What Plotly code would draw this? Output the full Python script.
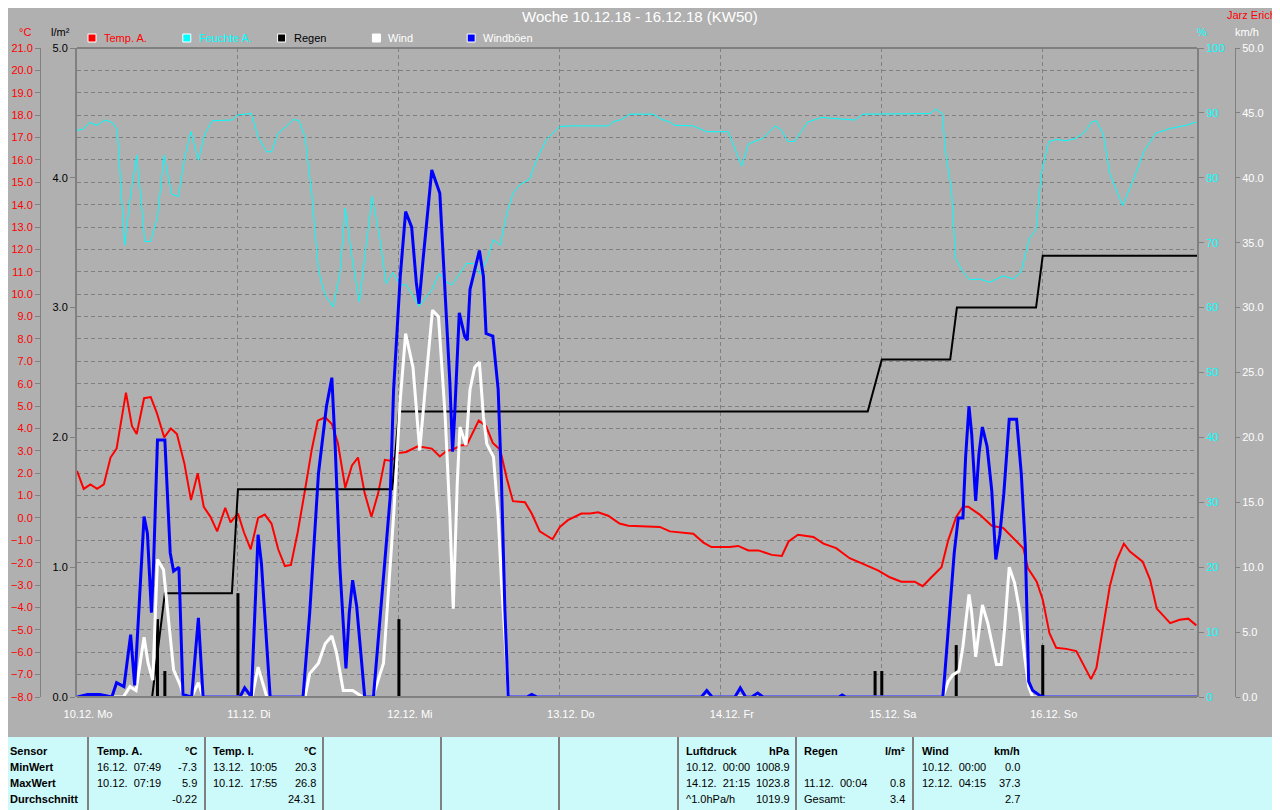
import plotly.graph_objects as go

# Zeit in Stunden ab 10.12. 00:00
temp_t = [0.0, 1.0, 2.0, 3.0, 4.0, 5.0, 5.9, 7.3, 8.2, 8.9,
          10.0, 11.0, 11.9, 13.0, 14.0, 14.9, 16.0, 17.0, 18.0, 18.9,
          19.9, 20.9, 22.1, 22.9, 24.0, 24.9, 25.9, 27.0, 28.0, 29.0,
          30.0, 31.0, 31.9, 32.9, 34.0, 35.0, 35.9, 37.0, 38.0, 38.9,
          40.0, 41.0, 41.9, 42.9, 43.9, 44.9, 45.9, 46.9, 47.9, 49.1,
          50.8, 52.9, 54.1, 55.1, 56.0, 57.3, 58.1, 59.9, 61.0, 62.0,
          63.1, 64.1, 65.0, 66.8, 67.8, 69.0, 70.9, 72.0, 73.2, 75.2,
          76.5, 77.7, 79.2, 80.9, 82.2, 85.2, 86.9, 88.4, 90.4, 91.9,
          93.4, 94.6, 97.3, 98.6, 100.1, 101.6, 103.6, 105.1, 106.1, 107.5,
          109.8, 111.3, 113.2, 115.2, 117.2, 119.5, 121.2, 122.9, 124.9, 126.1,
          127.4, 128.9, 129.9, 131.1, 132.1, 132.9, 134.6, 136.4, 138.1, 139.6,
          141.1, 141.8, 143.1, 144.0, 145.0, 146.0, 147.5, 149.0, 150.0, 151.2,
          152.0, 153.0, 154.0, 155.0, 156.1, 157.0, 158.9, 160.0, 161.0, 163.0,
          164.4, 165.7, 166.9]
temp_v = [2.1, 1.3, 1.5, 1.3, 1.5, 2.7, 3.1, 5.6, 4.1, 3.75,
          5.35, 5.4, 4.7, 3.6, 4.0, 3.75, 2.45, 0.8, 2.0, 0.5,
          0.05, -0.6, 0.45, -0.2, 0.2, -0.65, -1.4, 0.0, 0.15, -0.25,
          -1.4, -2.15, -2.1, -0.65, 1.25, 3.05, 4.35, 4.5, 4.2, 3.35,
          1.35, 2.35, 2.7, 1.1, 0.05, 1.1, 2.6, 2.55, 2.9, 2.95,
          3.2, 3.1, 2.75, 3.0, 3.05, 3.25, 3.25, 4.35, 4.1, 3.35,
          3.05, 1.75, 0.75, 0.7, 0.2, -0.6, -0.95, -0.4, -0.1, 0.2,
          0.2, 0.25, 0.1, -0.25, -0.35, -0.4, -0.4, -0.6, -0.65, -0.7,
          -1.1, -1.3, -1.3, -1.25, -1.45, -1.45, -1.65, -1.7, -1.05, -0.75,
          -0.85, -1.15, -1.35, -1.8, -2.05, -2.35, -2.65, -2.85, -2.85, -3.05,
          -2.65, -2.2, -1.0, 0.05, 0.5, 0.5, 0.15, -0.35, -0.45, -0.9,
          -1.35, -2.25, -2.85, -3.65, -5.15, -5.8, -5.85, -5.95, -6.5, -7.2,
          -6.7, -4.85, -3.05, -1.9, -1.15, -1.5, -1.95, -2.75, -4.05, -4.7,
          -4.55, -4.5, -4.8]

hum_t = [0.0, 0.9, 1.9, 3.0, 4.2, 5.3, 6.0, 6.5, 7.1, 7.9,
         8.9, 9.6, 10.1, 11.0, 12.0, 13.0, 14.1, 15.1, 16.1, 17.0,
         18.1, 19.1, 20.2, 23.1, 24.0, 26.0, 27.0, 28.3, 29.0, 30.0,
         31.3, 32.3, 33.1, 34.0, 35.0, 36.0, 37.0, 38.2, 39.2, 40.0,
         41.0, 42.1, 42.9, 44.0, 45.2, 46.1, 47.1, 48.2, 49.1, 51.0,
         52.9, 54.0, 55.0, 55.9, 58.1, 59.1, 60.1, 61.1, 62.1, 63.1,
         64.1, 65.0, 66.0, 67.5, 68.5, 70.0, 72.0, 73.5, 79.2, 79.9,
         81.2, 82.4, 85.9, 87.2, 88.4, 89.1, 91.9, 93.9, 97.1, 98.1,
         99.1, 100.1, 102.3, 104.1, 105.0, 106.0, 107.0, 107.8, 109.0, 111.0,
         112.7, 116.0, 117.2, 127.2, 128.0, 129.0, 129.6, 130.4, 131.0, 132.1,
         133.1, 134.6, 136.1, 138.1, 139.6, 140.8, 142.0, 143.0, 143.8, 144.9,
         146.1, 147.5, 149.0, 150.3, 151.3, 152.0, 153.0, 154.0, 155.9, 157.5,
         159.2, 160.9, 163.0, 165.4, 166.9]
hum_v = [87.3, 87.5, 88.5, 88.1, 88.9, 88.5, 87.4, 78.6, 69.6, 76.6,
         83.5, 76.1, 70.2, 70.2, 74.0, 83.5, 77.5, 77.1, 83.3, 87.1,
         82.7, 86.9, 88.8, 88.9, 89.7, 89.9, 86.3, 84.0, 84.0, 86.9,
         88.0, 89.0, 88.8, 86.3, 77.6, 65.8, 61.9, 60.1, 65.3, 75.3,
         67.8, 60.9, 67.8, 77.1, 70.4, 63.7, 65.4, 63.5, 63.5, 60.2,
         62.7, 65.3, 64.0, 63.5, 66.8, 66.8, 65.2, 67.3, 70.5, 69.6,
         74.5, 77.6, 78.9, 79.8, 82.7, 85.9, 87.9, 88.0, 88.0, 88.6,
         89.0, 89.8, 89.8, 89.0, 88.6, 88.1, 88.0, 87.1, 87.1, 84.3,
         81.8, 85.2, 86.1, 88.0, 87.4, 85.6, 85.6, 86.9, 88.6, 89.3,
         89.2, 88.9, 89.8, 89.9, 90.6, 89.9, 83.3, 78.1, 67.6, 65.5,
         64.3, 64.4, 63.9, 64.9, 64.4, 65.5, 70.7, 72.0, 80.7, 85.6,
         85.9, 85.7, 86.1, 87.1, 88.6, 88.8, 86.8, 80.7, 75.7, 79.7,
         84.3, 86.9, 87.6, 88.1, 88.6]

gust_t = [0.0, 1.6, 3.4, 5.2, 5.9, 7.0, 8.0, 8.6, 10.0, 10.5,
          10.9, 11.1, 11.4, 12.0, 13.1, 13.9, 14.4, 15.2, 15.8, 17.1,
          18.1, 18.8, 24.3, 25.0, 26.0, 27.0, 27.5, 28.8, 33.7, 34.7,
          36.0, 37.2, 38.0, 38.5, 39.2, 40.1, 40.6, 41.1, 41.7, 42.9,
          44.2, 45.7, 46.7, 47.2, 48.2, 49.0, 49.9, 50.6, 51.0, 51.6,
          52.9, 54.1, 54.9, 55.6, 56.0, 56.3, 57.0, 57.8, 58.2, 58.6,
          60.0, 60.6, 61.0, 62.0, 62.8, 63.3, 63.8, 64.1, 64.3, 67.1,
          67.8, 68.6, 93.1, 93.9, 94.7, 98.1, 98.9, 99.7, 100.6, 101.5,
          102.3, 113.6, 114.1, 114.6, 129.1, 129.4, 130.1, 130.8, 131.4, 132.1,
          132.5, 133.0, 133.4, 133.7, 134.0, 134.5, 135.0, 135.7, 136.4, 137.0,
          137.6, 138.2, 139.0, 140.1, 140.8, 141.4, 141.9, 142.5, 143.6, 144.3,
          167.0]
gust_v = [0, 0.2, 0.2, 0, 1.1, 0.8, 4.8, 0.9, 13.9, 12.6,
          8.5, 6.5, 10.0, 19.8, 19.8, 11.1, 9.7, 10.0, 0.2, 0,
          6.1, 0, 0, 0.7, 0, 12.5, 10.3, 0, 0, 6.5,
          17.2, 22.4, 24.6, 19.3, 10.0, 2.2, 6.5, 9.0, 7.0, 0,
          0, 9.0, 15.4, 23.6, 32.4, 37.4, 36.2, 31.9, 30.3, 33.7,
          40.6, 38.8, 30.6, 24.2, 18.9, 21.6, 29.6, 27.8, 27.5, 31.4,
          34.4, 32.4, 28.0, 27.8, 23.7, 16.5, 6.7, 2.2, 0, 0,
          0.2, 0, 0, 0.5, 0, 0, 0.7, 0, 0, 0.3,
          0, 0, 0.15, 0, 0, 1.8, 6.5, 11.1, 13.8, 13.8,
          18.5, 22.4, 20.3, 18.0, 15.1, 18.8, 20.8, 19.3, 15.9, 10.6,
          12.5, 15.7, 21.4, 21.4, 17.2, 11.6, 1.2, 0.5, 0.1, 0,
          0]

wind_t = [0.0, 6.9, 7.9, 8.8, 10.0, 10.6, 11.3, 12.0, 12.9, 13.9,
          14.4, 15.4, 15.8, 17.1, 18.1, 18.8, 26.1, 27.0, 28.3, 34.0,
          34.7, 36.0, 37.0, 38.0, 38.7, 39.7, 41.1, 42.6, 44.1, 45.7,
          46.2, 47.2, 48.2, 49.0, 50.1, 51.1, 52.0, 53.0, 53.9, 54.9,
          55.6, 56.1, 56.7, 57.1, 58.0, 58.6, 59.3, 60.0, 60.6, 61.1,
          62.1, 62.8, 63.3, 63.8, 64.1, 64.3, 129.1, 129.9, 130.6, 131.5,
          132.1, 133.0, 133.4, 134.0, 135.0, 135.8, 137.1, 137.8, 138.3, 139.0,
          139.8, 140.6, 141.3, 141.9, 142.5, 167.0]
wind_v = [0, 0, 0.8, 0.5, 4.6, 2.6, 1.3, 10.6, 9.8, 4.9,
          2.1, 0.9, 0.2, 0, 1.1, 0, 0, 2.3, 0, 0,
          1.8, 2.6, 4.1, 4.7, 3.4, 0.5, 0.5, 0, 0, 2.6,
          6.2, 13.9, 22.9, 28.0, 25.4, 19.0, 24.2, 29.8, 29.3, 21.6,
          13.9, 6.8, 16.5, 20.8, 19.4, 23.7, 25.4, 25.8, 21.6, 19.5,
          18.5, 13.9, 8.8, 4.9, 2.2, 0, 0, 1.2, 1.7, 2.0,
          3.9, 7.9, 6.5, 3.1, 7.1, 5.7, 2.5, 2.5, 5.2, 10.0,
          8.8, 6.5, 3.1, 0.8, 0, 0]

# Regen: Summenlinie und Einzelwerte (l/m²)
rain_sum_t = [0.0, 11.2, 13.1, 23.1, 24.0, 47.0, 48.0, 117.9, 120.0, 130.2, 131.2, 143.0, 144.0, 167.0]
rain_sum_v = [0, 0, 0.8, 0.8, 1.6, 1.6, 2.2, 2.2, 2.6, 2.6, 3.0, 3.0, 3.4, 3.4]
rain_t = [12.0, 13.1, 24.0, 48.0, 119.0, 120.0, 131.1, 144.0]
rain_v = [0.6, 0.2, 0.8, 0.6, 0.2, 0.2, 0.4, 0.4]

day_ticks = [0, 24, 48, 72, 96, 120, 144]
day_labels = ["10.12. Mo", "11.12. Di", "12.12. Mi", "13.12. Do", "14.12. Fr", "15.12. Sa", "16.12. So"]

BG = "#B0B0B0"
GRID = "#808080"
FONT = "Liberation Sans"

# die Seite hat 8px Rand -> Figur um 8px kleiner, alles um 8px verschoben
OFF = 8
FW, FH = 1280 - OFF, 810 - OFF


# Pixel (Screenshot) -> Papierkoordinaten, Plotbereich y 48..697
def px(x):
    return (x - OFF) / FW


def py(y):
    return (697 - y) / 649


fig = go.Figure()

fig.add_trace(go.Scatter(x=hum_t, y=hum_v, yaxis="y3", mode="lines",
                         line=dict(color="#00FFFF", width=1), name="Feuchte A."))
fig.add_trace(go.Bar(x=rain_t, y=rain_v, yaxis="y2", width=0.45,
                     marker=dict(color="black", line=dict(width=0)), name="Regen"))
fig.add_trace(go.Scatter(x=rain_sum_t, y=rain_sum_v, yaxis="y2", mode="lines",
                         line=dict(color="black", width=2), name="Regen"))
fig.add_trace(go.Scatter(x=wind_t, y=wind_v, yaxis="y4", mode="lines",
                         line=dict(color="white", width=3), name="Wind"))
fig.add_trace(go.Scatter(x=gust_t, y=gust_v, yaxis="y4", mode="lines",
                         line=dict(color="#0000FF", width=3), name="Windböen"))
fig.add_trace(go.Scatter(x=temp_t, y=temp_v, yaxis="y", mode="lines",
                         line=dict(color="#FF0000", width=2), name="Temp. A."))

tickfont = dict(family=FONT, size=11)

fig.update_layout(
    width=FW, height=FH,
    margin=dict(l=0, r=0, t=48 - OFF, b=810 - 697, pad=0),
    paper_bgcolor=BG, plot_bgcolor=BG,
    showlegend=False,
    font=dict(family=FONT, size=11),
    xaxis=dict(domain=[px(77), px(1197)], range=[0, 167], anchor="y",
               tickvals=day_ticks, ticktext=day_labels,
               tickfont=dict(tickfont, color="white"), ticks="",
               ticklabelshift=11, ticklabelstandoff=9, automargin=False,
               showgrid=True, gridcolor=GRID, gridwidth=1, griddash="4px,3px",
               zeroline=False, showline=False),
    yaxis=dict(range=[-8, 21], tick0=-8, dtick=1, tickformat=".1f",
               anchor="free", position=px(40), side="left", automargin=False,
               showline=True, linecolor=GRID, linewidth=1,
               ticks="outside", ticklen=5, tickcolor=GRID,
               tickfont=dict(tickfont, color="#FF0000"),
               showgrid=True, gridcolor=GRID, gridwidth=1, griddash="4px,3px",
               zeroline=False),
    yaxis2=dict(range=[0, 5], dtick=1, tickformat=".1f",
                overlaying="y", anchor="x", side="left", automargin=False,
                showline=True, linecolor=GRID, linewidth=2,
                ticks="outside", ticklen=5, tickcolor=GRID,
                tickfont=dict(tickfont, color="black"),
                showgrid=False, zeroline=False),
    yaxis3=dict(range=[0, 100], dtick=10,
                overlaying="y", anchor="x", side="right", automargin=False,
                showline=True, linecolor=GRID, linewidth=2,
                ticks="outside", ticklen=5, tickcolor=GRID,
                tickfont=dict(tickfont, color="#00FFFF"),
                showgrid=False, zeroline=False),
    yaxis4=dict(range=[0, 50], dtick=5, tickformat=".1f",
                overlaying="y", anchor="free", position=px(1235), side="right",
                automargin=False,
                showline=True, linecolor=GRID, linewidth=1,
                ticks="outside", ticklen=4, tickcolor=GRID,
                tickfont=dict(tickfont, color="white"),
                showgrid=False, zeroline=False),
)

shapes = []
# Rahmen oben/unten des Plotbereichs
shapes.append(dict(type="line", xref="paper", yref="paper", x0=px(77), x1=px(1197), y0=1, y1=1,
                   line=dict(color=GRID, width=2)))
shapes.append(dict(type="line", xref="paper", yref="paper", x0=px(77), x1=px(1197), y0=0, y1=0,
                   line=dict(color=GRID, width=2)))

# Legende
legend_items = [("Temp. A.", "#FF0000"), ("Feuchte A.", "#00FFFF"), ("Regen", "black"),
                ("Wind", "white"), ("Windböen", "#0000FF")]
annotations = []
for i, (name, col) in enumerate(legend_items):
    x0 = 88 + i * 94.8
    shapes.append(dict(type="rect", xref="paper", yref="paper",
                       x0=px(x0), x1=px(x0 + 8), y0=py(42), y1=py(34),
                       fillcolor=col, line=dict(color="white", width=1)))
    tcol = "white" if name == "Windböen" else col
    annotations.append(dict(x=px(x0 + 14), y=py(38), xref="paper", yref="paper",
                            text=name, showarrow=False, xanchor="left", yanchor="middle",
                            font=dict(family=FONT, size=11, color=tcol)))

# Titel und Achsenbeschriftungen
annotations += [
    dict(x=px(640), y=py(17), text="Woche 10.12.18 - 16.12.18 (KW50)",
         font=dict(family=FONT, size=15, color="white")),
    dict(x=px(1251), y=py(15), text="Jarz Erich", font=dict(family=FONT, size=11, color="#FF0000")),
    dict(x=px(25), y=py(32), text="°C", font=dict(family=FONT, size=11, color="#FF0000")),
    dict(x=px(60), y=py(32), text="l/m²", font=dict(family=FONT, size=11, color="black")),
    dict(x=px(1202), y=py(32), text="%", font=dict(family=FONT, size=11, color="#00FFFF")),
    dict(x=px(1247), y=py(32), text="km/h", font=dict(family=FONT, size=11, color="white")),
]
for a in annotations[-6:]:
    a.update(xref="paper", yref="paper", showarrow=False, xanchor="center", yanchor="middle")

# Tabelle unten
shapes.append(dict(type="rect", xref="paper", yref="paper", x0=0, x1=1, y0=py(812), y1=py(737),
                   fillcolor="#CCF9F9", line=dict(width=0), layer="below"))
for xd in [88, 205, 323, 441, 559, 678, 796, 913]:
    shapes.append(dict(type="line", xref="paper", yref="paper", x0=px(xd), x1=px(xd),
                       y0=py(737), y1=py(812), line=dict(color=GRID, width=2)))

row_y = [751, 767, 783, 799]
row_names = ["Sensor", "MinWert", "MaxWert", "Durchschnitt"]
nb = "\u00a0"
table_cols = [
    (95, 199, "Temp. A.", "°C", [("16.12." + nb + " 07:49", "-7.3"), ("10.12." + nb + " 07:19", "5.9"), ("", "-0.22")]),
    (211, 318, "Temp. I.", "°C", [("13.12." + nb + " 10:05", "20.3"), ("10.12." + nb + " 17:55", "26.8"), ("", "24.31")]),
    (684, 792, "Luftdruck", "hPa", [("10.12." + nb + " 00:00", "1008.9"), ("14.12." + nb + " 21:15", "1023.8"),
                                     ("^1.0hPa/h", "1019.9")]),
    (802, 907, "Regen", "l/m²", [("", ""), ("11.12." + nb + " 00:04", "0.8"), ("Gesamt:", "3.4")]),
    (920, 1022, "Wind", "km/h", [("10.12." + nb + " 00:00", "0.0"), ("12.12." + nb + " 04:15", "37.3"), ("", "2.7")]),
]


def txt(x, y, s, anchor, bold=False):
    if not s:
        return
    annotations.append(dict(x=px(x), y=py(y), xref="paper", yref="paper", showarrow=False,
                            text="<b>" + s + "</b>" if bold else s,
                            xanchor=anchor, yanchor="middle",
                            font=dict(family=FONT, size=11, color="black")))


for yy, name in zip(row_y, row_names):
    txt(8, yy, name, "left", bold=True)
for xl, xr, head, unit, rows in table_cols:
    txt(xl, row_y[0], head, "left", bold=True)
    txt(xr, row_y[0], unit, "right", bold=True)
    for yy, (left, right) in zip(row_y[1:], rows):
        txt(xl, yy, left, "left")
        txt(xr, yy, right, "right")

fig.update_layout(shapes=shapes, annotations=annotations)

fig.write_html("out.html")
